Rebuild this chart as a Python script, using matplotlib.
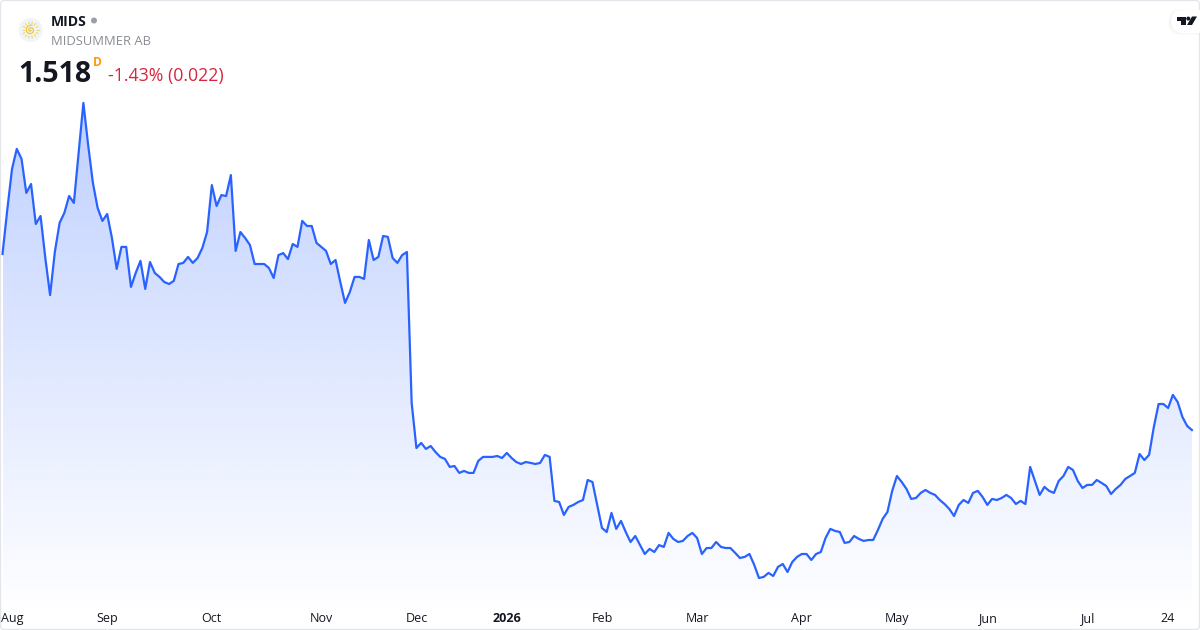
import numpy as np
import matplotlib
matplotlib.use("Agg")
import matplotlib.pyplot as plt
from matplotlib.patches import Circle, FancyBboxPatch, Polygon, Rectangle

prices = [
 2.486,2.728,2.954,3.064,3.009,2.822,2.871,2.651,2.695,2.464,2.260,2.497,2.657,2.712,2.805,2.767,3.042,3.317,3.086,2.877,
 2.739,2.668,2.706,2.574,2.404,2.525,2.525,2.305,2.382,2.448,2.294,2.442,2.382,2.360,2.332,2.321,2.338,2.431,2.437,2.470,
 2.437,2.464,2.519,2.607,2.865,2.750,2.810,2.805,2.920,2.503,2.607,2.574,2.536,2.431,2.431,2.431,2.409,2.354,2.480,2.491,
 2.458,2.541,2.525,2.668,2.640,2.640,2.547,2.525,2.503,2.431,2.453,2.332,2.217,2.277,2.360,2.360,2.349,2.563,2.453,2.470,
 2.585,2.580,2.464,2.437,2.480,2.497,1.667,1.419,1.447,1.414,1.430,1.397,1.370,1.359,1.315,1.320,1.282,1.293,1.282,1.282,
 1.348,1.370,1.370,1.370,1.375,1.364,1.392,1.364,1.342,1.331,1.342,1.337,1.331,1.337,1.381,1.370,1.128,1.122,1.051,1.095,
 1.106,1.122,1.133,1.243,1.232,1.106,0.979,0.957,1.062,0.974,1.018,0.957,0.902,0.935,0.885,0.836,0.864,0.847,0.885,0.875,
 0.952,0.919,0.902,0.908,0.935,0.952,0.924,0.836,0.869,0.869,0.902,0.875,0.869,0.869,0.842,0.814,0.820,0.836,0.776,0.704,
 0.710,0.732,0.715,0.765,0.781,0.737,0.792,0.820,0.836,0.836,0.803,0.836,0.847,0.924,0.974,0.963,0.957,0.897,0.902,0.935,
 0.919,0.908,0.913,0.913,0.968,1.029,1.067,1.183,1.265,1.232,1.194,1.139,1.144,1.172,1.188,1.172,1.161,1.133,1.111,1.084,
 1.045,1.106,1.133,1.117,1.172,1.183,1.150,1.106,1.139,1.133,1.144,1.161,1.144,1.111,1.128,1.111,1.315,1.238,1.161,1.205,
 1.183,1.172,1.238,1.265,1.315,1.298,1.238,1.199,1.216,1.216,1.243,1.227,1.210,1.166,1.194,1.216,1.249,1.265,1.282,1.386,
 1.353,1.381,1.535,1.661,1.661,1.639,1.711,1.672,1.590,1.540,1.518]
tick_positions = [2, 22, 44, 67, 87, 106, 126, 146, 168, 188, 207, 228, 245]
tick_labels = ["Aug", "Sep", "Oct", "Nov", "Dec", "2026", "Feb", "Mar", "Apr", "May", "Jun", "Jul", "24"]

LINE = "#2962FF"
FONT = "Open Sans"
x = np.arange(len(prices))
y = np.array(prices)

fig = plt.figure(figsize=(12, 6.3), dpi=100, facecolor="white")
ax = fig.add_axes([0, 0, 1, 1])

# gradient area under the line
n = 256
rgba = np.zeros((n, 1, 4))
rgba[:, :, :3] = matplotlib.colors.to_rgb(LINE)
rgba[:, 0, 3] = np.linspace(0.30, 0.0, n)
top_p = max(prices)
bot_p = 0.50
img = ax.imshow(rgba, extent=(0, len(prices) - 1, bot_p, top_p), origin="upper",
                aspect="auto", interpolation="bilinear", zorder=1)
clip = Polygon(np.column_stack([np.r_[x, x[-1], x[0]], np.r_[y, bot_p, bot_p]]),
               closed=True, transform=ax.transData, fc="none", ec="none")
ax.add_patch(clip)
img.set_clip_path(clip)
ax.set_xlim(-0.526, 251.7)
ax.set_ylim(0.418, 3.883)

ax.plot(x, y, color=LINE, lw=1.6, solid_joinstyle="round", zorder=2)

ax.set_yticks([])
ax.set_xticks(tick_positions)
ax.set_xticklabels(tick_labels, fontfamily=FONT, fontsize=9, color="#131722")
for lab in ax.get_xticklabels():
    if lab.get_text() == "2026":
        lab.set_fontweight("bold")
ax.tick_params(axis="x", length=0, pad=-12.7)
for s in ax.spines.values():
    s.set_visible(False)

# overlay in pixel space for the header furniture
ov = fig.add_axes([0, 0, 1, 1], facecolor="none")
ov.set_xlim(0, 1200)
ov.set_ylim(630, 0)
ov.axis("off")

ov.add_patch(FancyBboxPatch((0.5, 0.5), 1199, 629, boxstyle="round,pad=0,rounding_size=4",
                            fc="none", ec="#E3E5EA", lw=0.9))

# symbol logo
ov.add_patch(Circle((30.5, 30), 12, fc="#F0F3FA", ec="none"))
ang = np.linspace(0, 2 * np.pi, 15)[:-1]
for a in ang:
    ov.plot([30.5 + 6.4 * np.cos(a), 30.5 + 8 * np.cos(a)],
            [30 + 6.4 * np.sin(a), 30 + 8 * np.sin(a)], color="#F5D94E", lw=0.8)
t = np.linspace(0, 3.6 * np.pi, 60)
ov.plot(30.5 + (0.4 + 0.4 * t) * np.cos(t), 30 + (0.4 + 0.4 * t) * np.sin(t),
        color="#EFC93A", lw=0.9)

ov.text(51, 22.5, "MIDS", fontfamily=FONT, fontweight="bold", fontsize=10.1, color="#131722", va="center", ha="left")
ov.add_patch(Circle((94, 20.5), 3, fc="#9B9EA6", ec="none"))
ov.text(51, 41.5, "MIDSUMMER AB", fontfamily=FONT, fontsize=9.36, color="#8A8D94", va="center", ha="left")
ov.text(18, 75, "1.518", fontfamily=FONT, fontweight="bold", fontsize=20.5, color="#131722", va="center", ha="left")
ov.text(93, 62.5, "D", fontfamily=FONT, fontweight="bold", fontsize=8.6, color="#FF9800", va="center", ha="left")
ov.text(108, 76.5, "-1.43% (0.022)", fontfamily=FONT, fontsize=12.8, color="#D5263F", va="center", ha="left")

# TradingView badge
for i, a in enumerate([0.012, 0.02, 0.03]):
    ov.add_patch(FancyBboxPatch((1171 - 3 + i, 11 - 2 + i), 40, 26 - 2 * i,
                                boxstyle="round,pad=0,rounding_size=12", fc="black", ec="none", alpha=a))
ov.add_patch(FancyBboxPatch((1171, 10), 40, 23, boxstyle="round,pad=0,rounding_size=11", fc="white", ec="none"))
ov.add_patch(Polygon([(1177, 16.5), (1186, 16.5), (1186, 25), (1181, 25), (1181, 20.5), (1177, 20.5)], fc="#131722", ec="none"))
ov.add_patch(Circle((1188.3, 18.6), 2, fc="#131722", ec="none"))
ov.add_patch(Polygon([(1192, 16.5), (1197, 16.5), (1192, 25), (1187, 25)], fc="#131722", ec="none"))

fig.savefig("out.png", dpi=100)
